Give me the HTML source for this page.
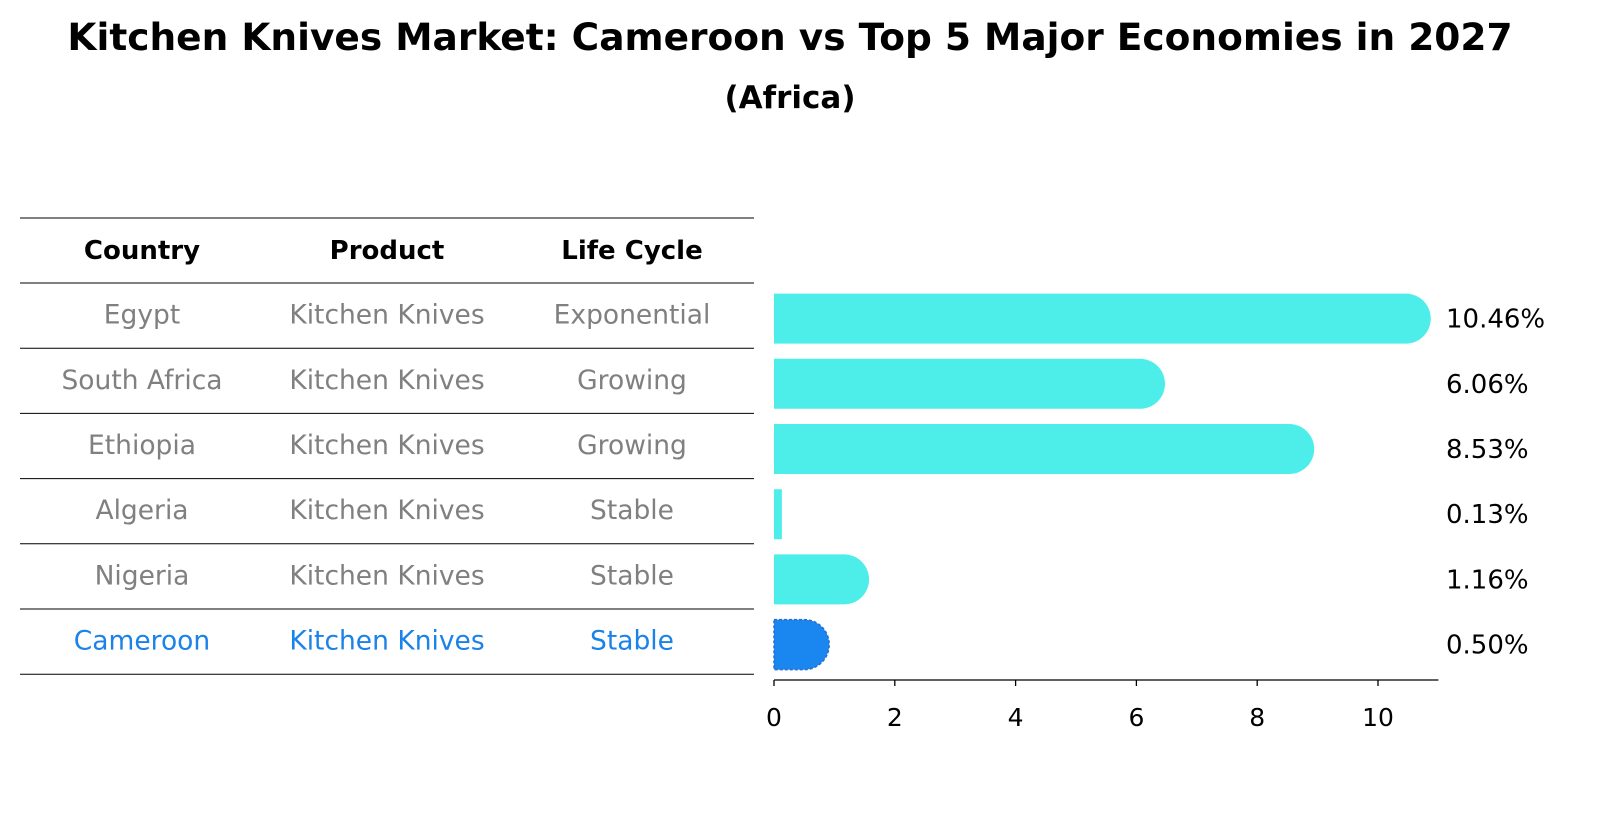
<!DOCTYPE html>
<html><head><meta charset="utf-8"><style>
body{margin:0;background:#fff;font-family:"Liberation Sans","DejaVu Sans",sans-serif}
</style></head><body>
<svg width="1604" height="823" viewBox="0 0 1604 823" xmlns="http://www.w3.org/2000/svg" font-family="'DejaVu Sans','Liberation Sans',sans-serif">
<text x="790" y="50" text-anchor="middle" font-size="37.5" font-weight="bold">Kitchen Knives Market: Cameroon vs Top 5 Major Economies in 2027</text>
<text x="790" y="108" text-anchor="middle" font-size="31" font-weight="bold">(Africa)</text>
<g id="table"></g>
<g id="bars"></g>
</svg>
<script>
const countries=["Egypt","South Africa","Ethiopia","Algeria","Nigeria","Cameroon"];
const products=["Kitchen Knives","Kitchen Knives","Kitchen Knives","Kitchen Knives","Kitchen Knives","Kitchen Knives"];
const lifeCycles=["Exponential","Growing","Growing","Stable","Stable","Stable"];
const values=[10.46,6.06,8.53,0.13,1.16,0.50];
const tickValues=[0,2,4,6,8,10];
const NS="http://www.w3.org/2000/svg";
function mk(t,a,p){const e=document.createElementNS(NS,t);for(const k in a)e.setAttribute(k,a[k]);p.appendChild(e);return e;}
const x0=774,pxPer=60.4;
function xs(v){return x0+v*pxPer;}
const rowTop=283,rowH=65.2;
function yc(i){return rowTop+rowH*i+rowH/2;}
const tbl=document.getElementById('table');
const cols=[142,387,632];
const lineYs=[218];for(let i=0;i<=countries.length;i++)lineYs.push(rowTop+rowH*i);
lineYs.forEach(y=>{const l=mk('line',{x1:20,x2:754,y1:y,y2:y,stroke:'#000','stroke-width':1},tbl);

});
["Country","Product","Life Cycle"].forEach((h,j)=>{const t=mk('text',{x:cols[j],y:259,'text-anchor':'middle','font-size':26,'font-weight':'bold'},tbl);t.textContent=h;

});
countries.forEach((c,i)=>{const col=i===countries.length-1?'#1a82e8':'#808080';
[c,products[i],lifeCycles[i]].forEach((s,j)=>{const t=mk('text',{x:cols[j],y:yc(i)+8,'text-anchor':'middle','font-size':26.5,fill:col},tbl);t.textContent=s;

});});
const g=document.getElementById('bars');
const bh=50,r=25;
values.forEach((v,i)=>{const last=i===values.length-1;const col=last?'#1a86f0':'#4deeea';
const w=xs(v)-x0;const y=yc(i)-bh/2+3;
let d;
if(v>0.3){d=`M${x0},${y} H${x0+w} A${r},${r} 0 0 1 ${x0+w},${y+bh} H${x0} Z`;}
else{d=`M${x0},${y} H${x0+w} V${y+bh} H${x0} Z`;}
const p=mk('path',{d:d,fill:col},g);
if(last){p.setAttribute('stroke','#2a6fc9');p.setAttribute('stroke-dasharray','3,2');p.setAttribute('stroke-width','1.5');}


const t=mk('text',{x:1446,y:yc(i)+12,'font-size':26},g);t.textContent=v.toFixed(2)+'%';

});
const ax=mk('line',{x1:x0,x2:xs(11),y1:680,y2:680,stroke:'#000','stroke-width':1.3},g);


tickValues.forEach(v=>{const l=mk('line',{x1:xs(v),x2:xs(v),y1:680,y2:686,stroke:'#000','stroke-width':1.3},g);


const t=mk('text',{x:xs(v),y:726,'text-anchor':'middle','font-size':25},g);t.textContent=v;

});
</script>
</body></html>
